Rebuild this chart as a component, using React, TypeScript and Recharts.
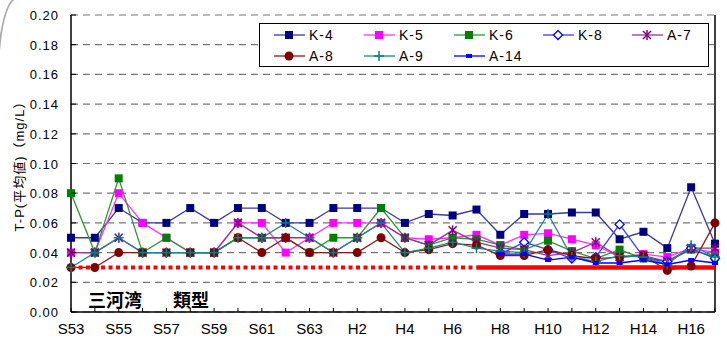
import React from "react"
import { CartesianGrid, Line, LineChart, ReferenceLine, XAxis, YAxis } from "recharts"

const years = [
  "S53", "S54", "S55", "S56", "S57", "S58", "S59", "S60", "S61", "S62", "S63",
  "H1", "H2", "H3", "H4", "H5", "H6", "H7", "H8", "H9", "H10", "H11", "H12", "H13", "H14", "H15", "H16", "H17",
]

const k4 = [0.05, 0.05, 0.07, 0.06, 0.06, 0.07, 0.06, 0.07, 0.07, 0.06, 0.06, 0.07, 0.07, 0.07, 0.06, 0.066, 0.065, 0.069, 0.052, 0.066, 0.066, 0.067, 0.067, 0.049, 0.054, 0.043, 0.084, 0.046]
const k5 = [0.04, 0.04, 0.08, 0.06, 0.05, 0.04, 0.04, 0.06, 0.06, 0.04, 0.05, 0.06, 0.06, 0.06, 0.05, 0.049, 0.05, 0.052, 0.045, 0.052, 0.053, 0.049, 0.045, 0.037, 0.039, 0.037, 0.043, 0.04]
const k6 = [0.08, 0.04, 0.09, 0.04, 0.05, 0.04, 0.04, 0.05, 0.05, 0.05, 0.04, 0.05, 0.05, 0.07, 0.05, 0.045, 0.05, 0.049, 0.045, 0.042, 0.048, 0.041, 0.036, 0.042, 0.036, 0.034, 0.042, 0.037]
const k8 = [null, null, null, null, null, null, null, null, null, null, null, null, null, null, null, null, null, null, 0.039, 0.047, 0.042, 0.036, 0.037, 0.059, 0.037, 0.034, 0.043, 0.036]
const a7 = [0.04, 0.04, 0.05, 0.04, 0.04, 0.04, 0.04, 0.06, 0.05, 0.05, 0.05, 0.04, 0.05, 0.06, 0.05, 0.045, 0.055, 0.047, 0.043, 0.042, 0.038, 0.04, 0.047, 0.037, 0.038, 0.034, 0.043, 0.043]
const a8 = [0.03, 0.03, 0.04, 0.04, 0.04, 0.04, 0.04, 0.05, 0.04, 0.05, 0.04, 0.04, 0.04, 0.05, 0.04, 0.042, 0.046, 0.045, 0.038, 0.038, 0.042, 0.038, 0.036, 0.037, 0.038, 0.028, 0.031, 0.06]
const a9 = [0.03, 0.04, 0.05, 0.04, 0.04, 0.04, 0.04, 0.05, 0.05, 0.06, 0.05, 0.04, 0.05, 0.06, 0.04, 0.043, 0.047, 0.043, 0.041, 0.04, 0.066, 0.037, 0.034, 0.038, 0.037, 0.032, 0.045, 0.037]
const a14 = [null, null, null, null, null, null, null, null, null, null, null, null, null, null, null, null, null, null, 0.039, 0.039, 0.035, 0.037, 0.033, 0.033, 0.035, 0.032, 0.035, 0.033]
// 環境基準 0.03 (点線 → 実線)
const stdOld = [0.03, 0.03, 0.03, 0.03, 0.03, 0.03, 0.03, 0.03, 0.03, 0.03, 0.03, 0.03, 0.03, 0.03, 0.03, 0.03, 0.03, 0.03, null, null, null, null, null, null, null, null, null, null]
const stdNew = [null, null, null, null, null, null, null, null, null, null, null, null, null, null, null, null, null, 0.03, 0.03, 0.03, 0.03, 0.03, 0.03, 0.03, 0.03, 0.03, 0.03, 0.03]

const yTicks = [0, 0.02, 0.04, 0.06, 0.08, 0.1, 0.12, 0.14, 0.16, 0.18, 0.2]

const rows = years.map((y, i) => ({
  year: y,
  k4: k4[i], k5: k5[i], k6: k6[i], k8: k8[i],
  a7: a7[i], a8: a8[i], a9: a9[i], a14: a14[i],
  stdOld: stdOld[i], stdNew: stdNew[i],
}))

type Kind = "square" | "diamond" | "star" | "circle" | "plus" | "small"

function Marker({ kind, cx, cy, color }: { kind: Kind; cx: number; cy: number; color: string }) {
  switch (kind) {
    case "square":
      return <rect x={cx - 4} y={cy - 4} width={8} height={8} fill={color} />
    case "diamond":
      return <path d={`M${cx},${cy - 4.5}L${cx + 4.5},${cy}L${cx},${cy + 4.5}L${cx - 4.5},${cy}Z`} fill="#fff" stroke={color} strokeWidth={1.3} />
    case "star":
      return (
        <g stroke={color} strokeWidth={1.5}>
          <line x1={cx - 4} y1={cy - 4} x2={cx + 4} y2={cy + 4} />
          <line x1={cx - 4} y1={cy + 4} x2={cx + 4} y2={cy - 4} />
          <line x1={cx} y1={cy - 5} x2={cx} y2={cy + 5} />
        </g>
      )
    case "circle":
      return <circle cx={cx} cy={cy} r={4.5} fill={color} />
    case "plus":
      return (
        <g stroke={color} strokeWidth={1.5}>
          <line x1={cx - 5} y1={cy} x2={cx + 5} y2={cy} />
          <line x1={cx} y1={cy - 5} x2={cx} y2={cy + 5} />
        </g>
      )
    default:
      return <rect x={cx - 3} y={cy - 2} width={6} height={4} fill={color} />
  }
}

const series: { key: string; name: string; color: string; line: string; kind: Kind }[] = [
  { key: "k4", name: "K-4", color: "#000080", line: "#3a3a9a", kind: "square" },
  { key: "k5", name: "K-5", color: "#ff00ff", line: "#ff33ff", kind: "square" },
  { key: "k6", name: "K-6", color: "#008000", line: "#2a9a2a", kind: "square" },
  { key: "k8", name: "K-8", color: "#0000ff", line: "#3a3aff", kind: "diamond" },
  { key: "a7", name: "A-7", color: "#800080", line: "#993399", kind: "star" },
  { key: "a8", name: "A-8", color: "#800000", line: "#8a1a1a", kind: "circle" },
  { key: "a9", name: "A-9", color: "#008080", line: "#1a8a8a", kind: "plus" },
  { key: "a14", name: "A-14", color: "#0000ff", line: "#0000ff", kind: "small" },
]

const XTick = (props: any) => {
  const { x, y, payload, index } = props
  return (
    <g>
      <line x1={x} x2={x} y1={y} y2={y - 4} stroke="#000" />
      {index % 2 === 0 && (
        <text x={x} y={y + 22} textAnchor="middle" fontSize={15} fill="#000"
          fontFamily="'Liberation Sans Narrow', 'Liberation Sans', sans-serif">
          {payload.value}
        </text>
      )}
    </g>
  )
}

const YTick = (props: any) => {
  const { x, y, payload } = props
  return (
    <g>
      <line x1={x} x2={x + 5} y1={y} y2={y} stroke="#000" />
      <text x={x - 12} y={y + 5} textAnchor="end" fontSize={13} letterSpacing={1} fill="#000"
        fontFamily="'Liberation Sans', sans-serif">
        {payload.value.toFixed(2)}
      </text>
    </g>
  )
}

function LegendBox() {
  const cols = [274, 364, 454, 543, 632]
  return (
    <div style={{ position: "absolute", left: 259, top: 23, width: 450, height: 44, border: "1px solid #000", background: "#fff", boxSizing: "border-box" }}>
      <svg width={450} height={44} style={{ position: "absolute", left: -1, top: -1 }}>
        {series.map((s, i) => {
          const x = cols[i % 5] - 259
          const y = i < 5 ? 12 : 33
          return (
            <g key={s.key}>
              <line x1={x} x2={x + 31} y1={y} y2={y} stroke={s.line} strokeWidth={1.3} />
              <Marker kind={s.kind} cx={x + 15} cy={y} color={s.color} />
              <text x={x + 35} y={y + 5} fontSize={14} letterSpacing={1} fill="#000" fontFamily="'Liberation Sans', sans-serif">
                {s.name}
              </text>
            </g>
          )
        })}
      </svg>
    </div>
  )
}

export default function App() {
  return (
    <div style={{ position: "absolute", left: 0, top: 0, width: 727, height: 342, background: "#fff", overflow: "hidden" }}>
      <div style={{ position: "absolute", left: -3, top: -3, width: 760, height: 400, border: "2px solid #aaa", borderTopLeftRadius: "20px 80px" }} />
      <LineChart width={727} height={342} data={rows} margin={{ top: 15, right: 12, left: 0, bottom: 0 }}>
        <CartesianGrid vertical={false} stroke="#777" strokeDasharray="7 5" strokeWidth={1.2} />
        <XAxis dataKey="year" scale="point" padding={{ left: 0, right: 0 }} interval={0} height={30}
          tickSize={0} tickMargin={0} tickLine={false} tick={<XTick />} axisLine={{ stroke: "#000", strokeWidth: 1.5 }} />
        <YAxis domain={[0, 0.2]} ticks={yTicks} width={71} tickSize={0} tickMargin={0} tickLine={false}
          tick={<YTick />} axisLine={{ stroke: "#000", strokeWidth: 1.5 }} />
        <ReferenceLine x="H17" stroke="#000" strokeWidth={1.5} />
        {series.map((s) => (
          <Line key={s.key} dataKey={s.key} type="linear" stroke={s.line} strokeWidth={1.3}
            isAnimationActive={false}
            dot={(p: any) =>
              p.value == null || p.cx == null ? <g key={p.index} /> : (
                <g key={p.index}><Marker kind={s.kind} cx={p.cx} cy={p.cy} color={s.color} /></g>
              )
            }
            activeDot={false} />
        ))}
        <Line dataKey="stdOld" stroke="#ff0000" strokeWidth={4} strokeDasharray="4 3.5" dot={false} activeDot={false} isAnimationActive={false} />
        <Line dataKey="stdNew" stroke="#ff0000" strokeWidth={4.5} dot={false} activeDot={false} isAnimationActive={false} />
      </LineChart>
      <LegendBox />
      <div style={{ position: "absolute", left: 18, top: 163, transform: "translate(-50%, -50%) rotate(-90deg)", whiteSpace: "nowrap",
        fontSize: 13, letterSpacing: 1, fontFamily: "'Liberation Sans', 'Noto Sans CJK JP', sans-serif", color: "#000" }}>
        T-P(平均値)（mg/L）
      </div>
      <div style={{ position: "absolute", left: 88, top: 289, fontSize: 18, fontWeight: "bold", whiteSpace: "pre",
        fontFamily: "'Noto Sans CJK JP', sans-serif", color: "#000", lineHeight: "20px" }}>
        三河湾<span style={{ marginLeft: 31 }}>類型</span>
      </div>
    </div>
  )
}
